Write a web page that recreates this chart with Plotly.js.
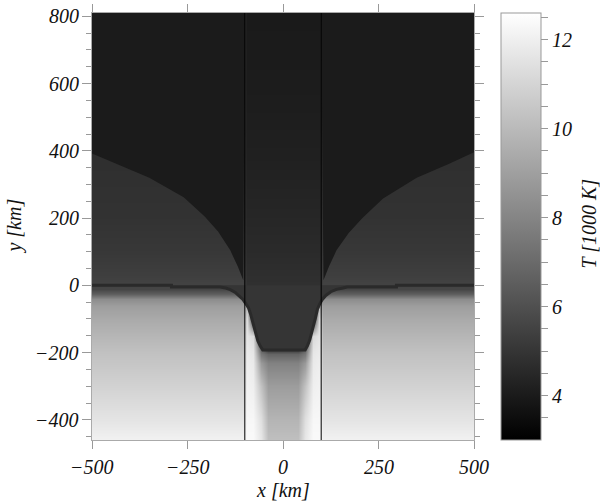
<!DOCTYPE html>
<html>
<head>
<meta charset="utf-8">
<script src="https://cdn.plot.ly/plotly-3.0.1.min.js"></script>
<style>
  body { margin: 0; background: #fff; }
  #chart { width: 600px; height: 502px; }
</style>
</head>
<body>
<div id="chart"></div>
<script>
// Temperature field, T in 1000 K
// grid rows (km)
const yGrid = [-460, -400, -300, -230, -205, -192, -150, -100, -60, -40, -25, -10, 5, 30, 100, 200, 390, 600, 810];

// vertical profiles for the different column groups
const tOuter     = [12.1, 11.6, 10.9, 10.45, 10.3, 10.2, 9.85, 9.4, 8.95, 8.3, 6.6, 5.6, 5.5, 5.35, 5.1, 4.9, 4.75, 4.7, 4.7];
const tBandOuter = [12.4, 12.3, 12.1, 11.95, 11.85, 11.8, 11.6, 11.2, 9.8, 5.4, 5.0, 4.9, 4.8, 4.75, 4.6, 4.45, 4.2, 4.05, 3.98];
const tBandInner = [12.4, 12.3, 12.0, 11.8, 11.7, 11.6, 11.2, 5.0, 4.95, 4.9, 4.9, 4.85, 4.8, 4.75, 4.6, 4.45, 4.2, 4.05, 3.98];
const tEdge      = [11.7, 11.4, 10.3, 8.8, 7.5, 6.8, 5.0, 5.0, 4.95, 4.9, 4.9, 4.85, 4.8, 4.75, 4.6, 4.45, 4.2, 4.05, 3.98];
const tCore      = [10.2, 9.8, 8.9, 7.9, 6.8, 5.3, 5.1, 5.0, 4.95, 4.9, 4.9, 4.85, 4.8, 4.75, 4.6, 4.45, 4.2, 4.05, 3.98];

// grid columns (km) and which profile each one uses
const xGrid = [-500, -106, -94, -78, -58, -40, 0, 40, 58, 78, 94, 106, 500];
const colProfile = [tOuter, tOuter, tBandOuter, tBandInner, tEdge, tCore, tCore, tCore, tEdge, tBandInner, tBandOuter, tOuter, tOuter];

// boundary of the cool upper region (left and right branch)
const leftCurveX  = [-500, -435, -350, -260, -205, -170, -138, -118, -104, -100, -500];
const leftCurveY  = [392, 360, 320, 262, 205, 160, 104, 55, 15, 810, 810];
const rightCurveX = [500, 435, 350, 262, 208, 172, 140, 120, 106, 100, 500];
const rightCurveY = [396, 362, 320, 258, 200, 156, 104, 55, 15, 810, 810];

// dark contour line
const lineX = [-500, -292, -292, -165, -150, -138, -125, -114, -105, -97, -90, -85, -80, -76, -71, -66, -60, -53,
               58, 64, 70, 75, 80, 85, 90, 96, 103, 112, 125, 140, 157, 168, 297, 297, 500];
const lineY = [0, 0, -5, -5, -8, -13, -21, -31, -42, -55, -68, -85, -105, -125, -146, -165, -180, -192,
               -192, -180, -163, -143, -120, -97, -72, -55, -42, -30, -19, -12, -8, -5, -5, 0, 0];

// thin vertical lines
const wallX = [-100, 100];

// axis tick labels
const xTickVals = [-500, -250, 0, 250, 500];
const yTickVals = [-400, -200, 0, 200, 400, 600, 800];

// colorbar ticks
const cbTickVals = [3.5, 4, 4.5, 5, 5.5, 6, 6.5, 7, 7.5, 8, 8.5, 9, 9.5, 10, 10.5, 11, 11.5, 12, 12.5];
const cbTickText = ['', '4', '', '', '', '6', '', '', '', '8', '', '', '', '10', '', '', '', '12', ''];

const z = yGrid.map((_, i) => colProfile.map(p => p[i]));

function serif() {
    return { family: 'Liberation Serif, serif', size: 20, style: 'italic', color: '#111' };
}
function label(v) {
    return String(v).replace('-', '\u2212');
}

const heat = {
    type: 'heatmap',
    x: xGrid,
    y: yGrid,
    z: z,
    zsmooth: 'best',
    zmin: 3,
    zmax: 12.6,
    colorscale: [[0, '#000000'], [1, '#ffffff']],
    hoverinfo: 'skip',
    colorbar: {
        thickness: 40,
        thicknessmode: 'pixels',
        len: 1,
        lenmode: 'fraction',
        x: 1.07,
        xanchor: 'left',
        xpad: 0,
        y: 0.5,
        yanchor: 'middle',
        ypad: 0,
        outlinewidth: 1,
        outlinecolor: '#999',
        ticks: 'outside',
        ticklen: 7,
        tickcolor: '#999',
        tickvals: cbTickVals,
        ticktext: cbTickText,
        tickfont: serif()
    }
};

const topLeft = {
    type: 'scatter', mode: 'lines', x: leftCurveX, y: leftCurveY,
    fill: 'toself', fillcolor: '#1b1b1b', line: { width: 0 }, hoverinfo: 'skip'
};
const topRight = {
    type: 'scatter', mode: 'lines', x: rightCurveX, y: rightCurveY,
    fill: 'toself', fillcolor: '#1b1b1b', line: { width: 0 }, hoverinfo: 'skip'
};

const contour = {
    type: 'scatter', mode: 'lines', x: lineX, y: lineY,
    fill: 'toself', fillcolor: '#353535',
    line: { color: '#2a2a2a', width: 3 }, hoverinfo: 'skip'
};

// tick labels as annotations so they get the italic serif face
const tickNotes = xTickVals.map(v => ({
    text: label(v), xref: 'x', yref: 'paper', x: v, y: 0,
    xanchor: 'center', yanchor: 'top', yshift: -14,
    showarrow: false, font: serif()
})).concat(yTickVals.map(v => ({
    text: label(v), xref: 'paper', yref: 'y', x: 0, y: v,
    xanchor: 'right', yanchor: 'middle', xshift: -11,
    showarrow: false, font: serif()
})));

const layout = {
    width: 600,
    height: 502,
    margin: { l: 92, r: 126, t: 13, b: 62 },
    paper_bgcolor: '#fff',
    plot_bgcolor: '#fff',
    showlegend: false,
    font: serif(),
    xaxis: {
        range: [-500, 500],
        tickvals: xTickVals,
        showticklabels: false,
        ticks: 'outside',
        ticklen: 8,
        tickcolor: '#999',
        showline: true,
        linecolor: '#aaa',
        mirror: 'ticks',
        showgrid: false,
        zeroline: false
    },
    yaxis: {
        range: [-460, 810],
        tickvals: yTickVals,
        showticklabels: false,
        ticks: 'outside',
        ticklen: 9,
        tickcolor: '#999',
        minor: { dtick: 50, tick0: 0, ticks: 'outside', ticklen: 5, tickcolor: '#999' },
        showline: true,
        linecolor: '#aaa',
        mirror: 'ticks',
        showgrid: false,
        zeroline: false
    },
    annotations: tickNotes.concat([
        { text: 'x [km]', xref: 'paper', yref: 'paper', x: 0.5, y: 0,
          xanchor: 'center', yanchor: 'middle', yshift: -50,
          showarrow: false, font: serif() },
        { text: 'y [km]', xref: 'paper', yref: 'paper', x: -0.204, y: 0.5,
          xanchor: 'center', yanchor: 'middle',
          textangle: -90, showarrow: false, font: serif() },
        { text: 'T [1000 K]', xref: 'paper', yref: 'paper', x: 1.3, y: 0.506,
          xanchor: 'center', yanchor: 'middle',
          textangle: -90, showarrow: false, font: serif() }
    ]),
    shapes: wallX.map(x => ({
        type: 'line', xref: 'x', yref: 'paper',
        x0: x, x1: x, y0: 0, y1: 1,
        line: { color: '#000', width: 1 }, layer: 'above'
    }))
};

Plotly.newPlot('chart', [heat, topLeft, topRight, contour], layout, { staticPlot: true });
</script>
</body>
</html>
